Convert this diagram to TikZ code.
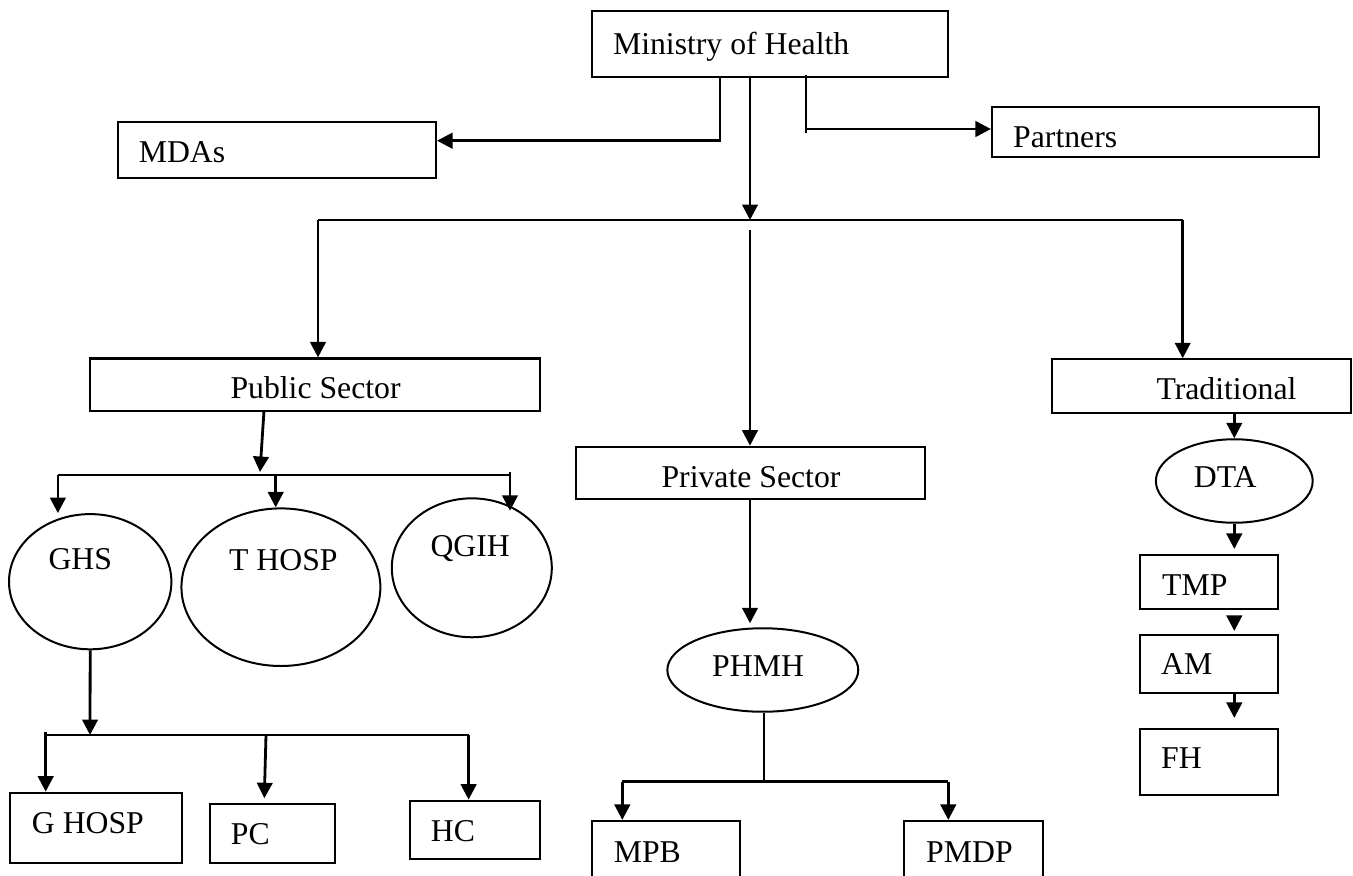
\documentclass[tikz,border=0pt]{standalone}
\usepackage{fontspec}
\setmainfont{Liberation Serif}
\usetikzlibrary{shapes.geometric,arrows.meta,fit,calc}
\begin{document}
\begin{tikzpicture}[x=0.375pt,y=-0.375pt,
  font=\fontsize{11.9}{14}\selectfont,
  boxst/.style={draw,line width=0.8pt,inner sep=0pt,rectangle},
  ellst/.style={draw,line width=0.75pt,inner sep=0pt,ellipse},
  txt/.style={anchor=base west,inner sep=0pt},
  conn/.style={line width=1.05pt},
  arr/.style={conn,-{Triangle[length=5.8pt,width=5.8pt]}},
  thinline/.style={line width=0.6pt}]
\clip (0,0) rectangle (1353,875);
\fill[white] (0,0) rectangle (1353,875);

% boxes
\node[boxst,fit={(592,10.7)(948,77.3)}] (moh) {};
\node[txt] (moht) at (612.5,54) {Ministry of Health};
\node[boxst,fit={(117.7,122)(436,178)}] (mdas) {};
\node[txt] (mdast) at (138.3,162.7) {MDAs};
\node[boxst,fit={(992,107)(1319,157)}] (partners) {};
\node[txt] (partnerst) at (1012.7,147.3) {Partners};
\node[boxst,fit={(90,358.5)(540.3,410.7)}] (pub) {};
\node[txt] (pubt) at (230,398.5) {Public Sector};
\node[boxst,fit={(575.7,446.7)(925.3,499)}] (priv) {};
\node[txt] (privt) at (661,487.3) {Private Sector};
\node[boxst,fit={(1052,359.3)(1351,412.7)}] (trad) {};
\node[txt] (tradt) at (1156,399.3) {Traditional};

% ellipses
\node[ellst,minimum width=60.9pt,minimum height=50.7pt] (ghs) at (90.2,581.7) {};
\node[txt] (ghst) at (48,569.3) {GHS};
\node[ellst,minimum width=74.6pt,minimum height=59.1pt] (thosp) at (280.9,587.2) {};
\node[txt] (thospt) at (228.6,570) {T HOSP};
\node[ellst,minimum width=60pt,minimum height=52.1pt] (qgih) at (471.8,567.8) {};
\node[txt] (qgiht) at (430,556.7) {QGIH};
\node[ellst,minimum width=71.6pt,minimum height=31.3pt] (phmh) at (762.8,670) {};
\node[txt] (phmht) at (711.7,676) {PHMH};
\node[ellst,minimum width=58.8pt,minimum height=31.3pt] (dta) at (1234.3,481) {};
\node[txt] (dtat) at (1193.3,487.7) {DTA};

% small boxes
\node[boxst,fit={(9.6,792.7)(182,862.7)}] (ghosp) {};
\node[txt] (ghospt) at (31.4,833.3) {G HOSP};
\node[boxst,fit={(210,804.3)(334.6,862.7)}] (pc) {};
\node[txt] (pct) at (230.4,844) {PC};
\node[boxst,fit={(409.6,800.7)(540,859)}] (hc) {};
\node[txt] (hct) at (430.4,841) {HC};
\node[boxst,fit={(591.7,821)(740.3,890)}] (mpb) {};
\node[txt] (mpbt) at (613.3,862) {MPB};
\node[boxst,fit={(904,821)(1042.7,890)}] (pmdp) {};
\node[txt] (pmdpt) at (925.7,862) {PMDP};
\node[boxst,fit={(1140,555)(1278.3,608.7)}] (tmp) {};
\node[txt] (tmpt) at (1161.7,595) {TMP};
\node[boxst,fit={(1140,635)(1278.3,692.7)}] (am) {};
\node[txt] (amt) at (1160.7,674) {AM};
\node[boxst,fit={(1140,729)(1278.3,795)}] (fh) {};
\node[txt] (fht) at (1160.7,768.3) {FH};

% junction coordinates
\coordinate (jL) at (720,140.7);
\coordinate (jR) at (806,129);
\coordinate (b1) at (318,220);
\coordinate (b2) at (750,220);
\coordinate (b3) at (1182.7,220);
\coordinate (b2low) at (750,230);
\coordinate (p0) at (264,410.7);
\coordinate (pbJ) at (260,472);
\coordinate (pbL) at (57.9,475);
\coordinate (pbM) at (275.7,475);
\coordinate (pbR) at (510,475);
\coordinate (gJ) at (90,735);
\coordinate (gL) at (45.7,735);
\coordinate (gM) at (266,735);
\coordinate (gR) at (468.6,735);
\coordinate (hJ) at (764,781.7);
\coordinate (hL) at (622.3,781.7);
\coordinate (hR) at (948.3,781.7);

% top connectors
\draw[arr] (moh.south -| jL) -- (jL) -- (jL -| mdas.east);
\draw[conn] ($(moh.south -| jR)+(0,-3)$) -- ($(jR)+(0,3.7)$);
\draw[arr] (jR) -- (jR -| partners.west);
\draw[arr] (moh.south -| b2) -- (b2);
\draw[conn] (b1) -- (b3);
\draw[arr] (b1) -- (b1 |- pub.north);
\draw[arr] (b3) -- (b3 |- trad.north);
\draw[arr] (b2low) -- (b2low |- priv.north);

% public sector
\draw[arr] (p0) -- (pbJ);
\draw[conn] (pbL) -- (pbR);
\draw[arr] (pbL) -- (pbL |- ghs.north);
\draw[arr] (pbM) -- (pbM |- thosp.north);
\draw[arr] ($(pbR)+(0,-3)$) -- ($(pbR |- qgih.north)+(0,13.4)$);

% GHS
\draw[arr] (ghs.south) -- (gJ);
\draw[conn] (gL) -- (gR);
\draw[arr] ($(gL)+(0,-3)$) -- (gL |- ghosp.north);
\draw[arr] (gM) -- ($(gM |- pc.north)+(-1.7,-5)$);
\draw[arr] (gR) -- (gR |- hc.north);

% private sector
\draw[arr] (priv.south -| b2low) -- ($(b2low |- phmh.north)+(0,-4)$);
\draw[thinline] (phmh.south -| hJ) -- (hJ);
\draw[conn] (hL) -- (hR);
\draw[arr] (hL) -- (hL |- mpb.north);
\draw[arr] (hR) -- (hR |- pmdp.north);

% traditional
\draw[arr] (trad.south -| dta.north) -- (dta.north);
\draw[arr] (dta.south) -- ($(dta.south |- tmp.north)+(0,-5)$);
\draw[arr] ($(tmp.south -| dta.south)+(0,6)$) -- ($(am.north -| dta.south)+(0,-3)$);
\draw[arr] (am.south -| dta.south) -- ($(fh.north -| dta.south)+(0,-10)$);
\end{tikzpicture}
\end{document}
